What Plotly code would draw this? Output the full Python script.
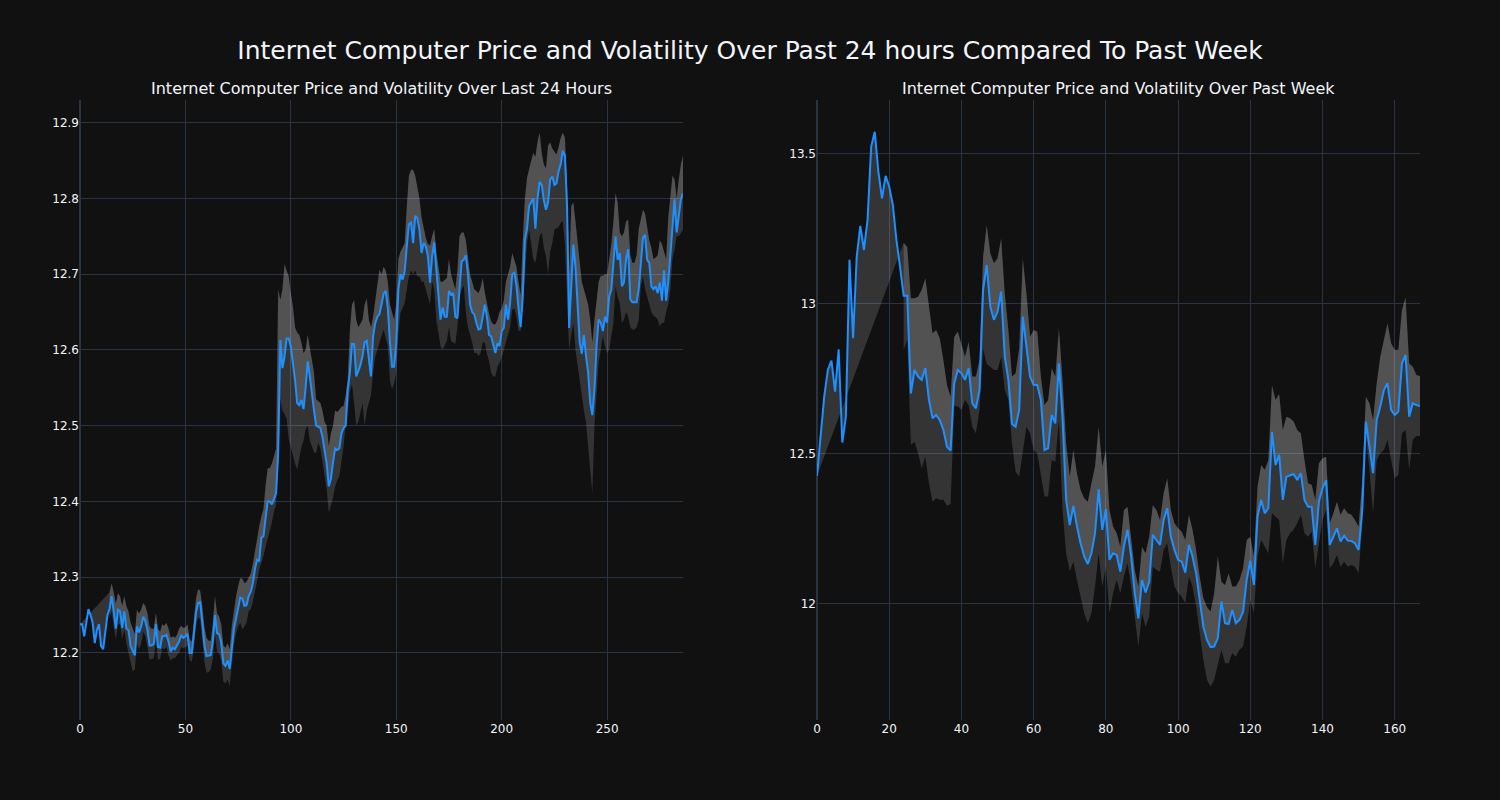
import plotly.graph_objects as go
from plotly.subplots import make_subplots

# ---------------- Last 24 hours (5-minute steps) ----------------
price_24h = [
    12.238, 12.238, 12.222, 12.240, 12.258, 12.250, 12.240, 12.213, 12.230, 12.238,
    12.209, 12.205, 12.225, 12.250, 12.258, 12.275, 12.255, 12.232, 12.257, 12.255,
    12.233, 12.255, 12.232, 12.230, 12.209, 12.203, 12.197, 12.235, 12.227, 12.235,
    12.248, 12.242, 12.230, 12.210, 12.210, 12.212, 12.238, 12.208, 12.207, 12.222,
    12.222, 12.224, 12.215, 12.202, 12.207, 12.205, 12.210, 12.215, 12.223, 12.220,
    12.222, 12.225, 12.200, 12.200, 12.225, 12.253, 12.266, 12.267, 12.240, 12.210,
    12.196, 12.197, 12.197, 12.215, 12.250, 12.226, 12.225, 12.213, 12.186, 12.183,
    12.190, 12.179, 12.210, 12.232, 12.245, 12.257, 12.273, 12.272, 12.262, 12.263,
    12.275, 12.281, 12.292, 12.311, 12.323, 12.321, 12.352, 12.354, 12.380, 12.400,
    12.400, 12.396, 12.403, 12.411, 12.465, 12.613, 12.576, 12.591, 12.615, 12.615,
    12.604, 12.582, 12.560, 12.530, 12.527, 12.534, 12.522, 12.550, 12.585, 12.565,
    12.540, 12.520, 12.500, 12.498, 12.497, 12.485, 12.470, 12.450, 12.420, 12.430,
    12.452, 12.470, 12.468, 12.470, 12.490, 12.497, 12.500, 12.548, 12.570, 12.608,
    12.608, 12.565, 12.572, 12.580, 12.592, 12.610, 12.612, 12.590, 12.565, 12.618,
    12.635, 12.644, 12.647, 12.660, 12.674, 12.678, 12.655, 12.610, 12.578, 12.578,
    12.610, 12.680, 12.700, 12.693, 12.704, 12.737, 12.766, 12.768, 12.741, 12.777,
    12.774, 12.759, 12.728, 12.741, 12.737, 12.724, 12.689, 12.724, 12.742, 12.706,
    12.675, 12.640, 12.656, 12.644, 12.644, 12.678, 12.673, 12.675, 12.644, 12.642,
    12.680, 12.717, 12.719, 12.725, 12.700, 12.660, 12.650, 12.647, 12.636, 12.627,
    12.628, 12.644, 12.660, 12.644, 12.620, 12.618, 12.605, 12.596, 12.609, 12.605,
    12.625, 12.629, 12.660, 12.640, 12.662, 12.700, 12.702, 12.685, 12.655, 12.630,
    12.670, 12.745, 12.760, 12.790, 12.795, 12.800, 12.760, 12.800, 12.822, 12.818,
    12.798, 12.785, 12.795, 12.825, 12.829, 12.818, 12.820, 12.836, 12.845, 12.863,
    12.856, 12.790, 12.629, 12.684, 12.739, 12.710, 12.650, 12.610, 12.595, 12.620,
    12.592, 12.570, 12.530, 12.514, 12.548, 12.605, 12.640, 12.636, 12.625, 12.644,
    12.636, 12.671, 12.680, 12.712, 12.750, 12.719, 12.728, 12.684, 12.689, 12.720,
    12.733, 12.667, 12.663, 12.663, 12.663, 12.680, 12.720, 12.748, 12.752, 12.719,
    12.715, 12.684, 12.680, 12.684, 12.675, 12.689, 12.665, 12.705, 12.665, 12.690,
    12.725, 12.765, 12.799, 12.755, 12.781, 12.799, 12.807,
]

# band values exist from the 15th point onward (earlier points have no band)
upper_24h = [
    12.280, 12.292, 12.280, 12.265, 12.279, 12.275, 12.262, 12.275, 12.262, 12.255,
    12.240, 12.232, 12.225, 12.257, 12.252, 12.257, 12.266, 12.262, 12.252, 12.235,
    12.232, 12.232, 12.253, 12.232, 12.228, 12.238, 12.236, 12.240, 12.232, 12.220,
    12.222, 12.220, 12.224, 12.232, 12.236, 12.233, 12.234, 12.238, 12.218, 12.215,
    12.240, 12.272, 12.284, 12.282, 12.262, 12.235, 12.220, 12.216, 12.216, 12.240,
    12.275, 12.252, 12.248, 12.237, 12.210, 12.207, 12.213, 12.205, 12.236, 12.258,
    12.275, 12.288, 12.299, 12.298, 12.292, 12.294, 12.300, 12.305, 12.318, 12.336,
    12.350, 12.367, 12.380, 12.390, 12.420, 12.444, 12.444, 12.450, 12.460, 12.470,
    12.680, 12.666, 12.680, 12.713, 12.705, 12.697, 12.675, 12.657, 12.630, 12.623,
    12.620, 12.610, 12.596, 12.600, 12.620, 12.605, 12.590, 12.570, 12.535, 12.532,
    12.530, 12.520, 12.505, 12.500, 12.473, 12.490, 12.500, 12.520, 12.518, 12.521,
    12.525, 12.526, 12.540, 12.561, 12.626, 12.660, 12.666, 12.640, 12.630, 12.635,
    12.640, 12.660, 12.668, 12.640, 12.630, 12.644, 12.665, 12.690, 12.706, 12.700,
    12.710, 12.705, 12.690, 12.660, 12.650, 12.640, 12.662, 12.720, 12.730, 12.735,
    12.741, 12.790, 12.830, 12.838, 12.838, 12.830, 12.815, 12.800, 12.775, 12.760,
    12.748, 12.740, 12.738, 12.750, 12.760, 12.730, 12.710, 12.690, 12.690, 12.692,
    12.695, 12.720, 12.700, 12.690, 12.680, 12.705, 12.750, 12.755, 12.755, 12.745,
    12.720, 12.700, 12.690, 12.680, 12.678, 12.675, 12.682, 12.695, 12.676, 12.660,
    12.648, 12.638, 12.634, 12.634, 12.640, 12.650, 12.655, 12.665, 12.690, 12.700,
    12.710, 12.728, 12.720, 12.710, 12.690, 12.672, 12.745, 12.800, 12.827, 12.840,
    12.850, 12.860, 12.855, 12.875, 12.887, 12.860, 12.845, 12.840, 12.870, 12.874,
    12.866, 12.862, 12.858, 12.868, 12.880, 12.887, 12.880, 12.820, 12.700, 12.790,
    12.795, 12.770, 12.745, 12.720, 12.690, 12.680, 12.670, 12.660, 12.640, 12.610,
    12.640, 12.665, 12.690, 12.698, 12.698, 12.700, 12.700, 12.720, 12.740, 12.770,
    12.807, 12.795, 12.755, 12.750, 12.755, 12.770, 12.772, 12.725, 12.715, 12.715,
    12.725, 12.760, 12.775, 12.785, 12.780, 12.760, 12.745, 12.735, 12.720, 12.722,
    12.725, 12.745, 12.740, 12.730, 12.720, 12.775, 12.800, 12.830, 12.825, 12.800,
    12.825, 12.845, 12.857,
]

lower_24h = [
    12.245, 12.255, 12.235, 12.218, 12.238, 12.238, 12.218, 12.232, 12.212, 12.200,
    12.190, 12.176, 12.178, 12.212, 12.205, 12.212, 12.228, 12.222, 12.208, 12.191,
    12.192, 12.193, 12.215, 12.191, 12.192, 12.206, 12.205, 12.208, 12.196, 12.190,
    12.193, 12.193, 12.197, 12.200, 12.208, 12.206, 12.208, 12.210, 12.191, 12.188,
    12.205, 12.235, 12.247, 12.244, 12.218, 12.188, 12.174, 12.175, 12.178, 12.192,
    12.225, 12.202, 12.200, 12.188, 12.162, 12.160, 12.165, 12.156, 12.185, 12.210,
    12.226, 12.235, 12.240, 12.231, 12.235, 12.240, 12.255, 12.258, 12.268, 12.280,
    12.295, 12.310, 12.318, 12.328, 12.340, 12.350, 12.360, 12.372, 12.387, 12.395,
    12.445, 12.535, 12.520, 12.515, 12.510, 12.482, 12.470, 12.460, 12.450, 12.442,
    12.460, 12.472, 12.480, 12.495, 12.500, 12.480, 12.473, 12.465, 12.464, 12.478,
    12.470, 12.451, 12.430, 12.416, 12.385, 12.395, 12.405, 12.420, 12.428, 12.433,
    12.450, 12.473, 12.500, 12.517, 12.545, 12.555, 12.530, 12.500, 12.505, 12.520,
    12.530, 12.500, 12.520, 12.530, 12.540, 12.570, 12.590, 12.600, 12.610, 12.620,
    12.627, 12.615, 12.605, 12.560, 12.548, 12.556, 12.570, 12.620, 12.649, 12.655,
    12.662, 12.680, 12.697, 12.705, 12.700, 12.705, 12.697, 12.697, 12.690, 12.690,
    12.680, 12.668, 12.660, 12.690, 12.680, 12.640, 12.620, 12.605, 12.600, 12.605,
    12.612, 12.630, 12.612, 12.610, 12.608, 12.630, 12.670, 12.680, 12.685, 12.650,
    12.630, 12.620, 12.610, 12.596, 12.596, 12.592, 12.596, 12.610, 12.610, 12.595,
    12.585, 12.570, 12.565, 12.565, 12.578, 12.583, 12.590, 12.600, 12.612, 12.620,
    12.630, 12.653, 12.655, 12.645, 12.625, 12.625, 12.660, 12.700, 12.740, 12.759,
    12.740, 12.720, 12.715, 12.735, 12.750, 12.755, 12.735, 12.724, 12.700, 12.730,
    12.741, 12.759, 12.760, 12.762, 12.768, 12.770, 12.740, 12.670, 12.600, 12.620,
    12.636, 12.600, 12.580, 12.555, 12.540, 12.520, 12.504, 12.472, 12.440, 12.411,
    12.500, 12.548, 12.583, 12.600, 12.618, 12.605, 12.596, 12.600, 12.620, 12.636,
    12.684, 12.670, 12.662, 12.636, 12.640, 12.650, 12.644, 12.630, 12.627, 12.627,
    12.630, 12.640, 12.684, 12.697, 12.680, 12.670, 12.660, 12.650, 12.645, 12.644,
    12.640, 12.631, 12.636, 12.636, 12.650, 12.660, 12.680, 12.720, 12.733, 12.750,
    12.750, 12.755, 12.759,
]

# ---------------- Past week (hourly steps) ----------------
price_week = [
    12.427, 12.547, 12.691, 12.780, 12.811, 12.708, 12.849, 12.538, 12.624, 13.147,
    12.886, 13.158, 13.260, 13.180, 13.280, 13.524, 13.574, 13.441, 13.352, 13.427,
    13.391, 13.330, 13.213, 13.124, 13.027, 13.027, 12.702, 12.780, 12.758, 12.747,
    12.786, 12.680, 12.619, 12.630, 12.613, 12.580, 12.524, 12.511, 12.736, 12.780,
    12.769, 12.747, 12.786, 12.669, 12.652, 12.713, 13.047, 13.130, 12.991, 12.947,
    12.974, 13.041, 12.824, 12.747, 12.600, 12.591, 12.647, 12.958, 12.847, 12.758,
    12.730, 12.730, 12.680, 12.513, 12.519, 12.630, 12.602, 12.802, 12.620, 12.347,
    12.263, 12.327, 12.258, 12.202, 12.158, 12.133, 12.169, 12.236, 12.382, 12.247,
    12.316, 12.147, 12.169, 12.163, 12.108, 12.191, 12.247, 12.158, 12.036, 11.952,
    12.080, 12.038, 12.074, 12.230, 12.213, 12.197, 12.280, 12.319, 12.224, 12.180,
    12.147, 12.141, 12.104, 12.197, 12.158, 12.102, 12.013, 11.924, 11.880, 11.856,
    11.858, 11.886, 12.008, 11.936, 11.933, 11.980, 11.936, 11.947, 11.974, 12.080,
    12.144, 12.063, 12.291, 12.347, 12.302, 12.319, 12.574, 12.463, 12.497, 12.347,
    12.424, 12.428, 12.433, 12.413, 12.436, 12.347, 12.324, 12.324, 12.197, 12.341,
    12.386, 12.413, 12.197, 12.224, 12.252, 12.208, 12.227, 12.211, 12.210, 12.202,
    12.180, 12.313, 12.608, 12.524, 12.436, 12.613, 12.658, 12.713, 12.736, 12.647,
    12.630, 12.641, 12.802, 12.830, 12.624, 12.669, 12.663, 12.660,
]

# band values exist from the 25th point onward
upper_week = [
    13.204, 13.190, 13.019, 13.019, 13.024, 13.047, 13.086, 12.991, 12.902, 12.913,
    12.886, 12.813, 12.730, 12.691, 12.891, 12.908, 12.869, 12.824, 12.874, 12.758,
    12.758, 12.813, 13.158, 13.263, 13.169, 13.136, 13.152, 13.219, 13.036, 12.913,
    12.758, 12.769, 12.852, 13.152, 13.036, 12.891, 12.913, 12.908, 12.758, 12.663,
    12.680, 12.786, 12.758, 12.919, 12.747, 12.536, 12.424, 12.513, 12.436, 12.380,
    12.352, 12.341, 12.402, 12.458, 12.591, 12.458, 12.513, 12.313, 12.258, 12.236,
    12.191, 12.313, 12.324, 12.213, 12.113, 12.058, 12.191, 12.169, 12.224, 12.330,
    12.313, 12.280, 12.369, 12.419, 12.313, 12.269, 12.252, 12.241, 12.213, 12.297,
    12.247, 12.180, 12.090, 12.020, 11.990, 11.975, 12.036, 12.158, 12.074, 12.063,
    12.102, 12.058, 12.058, 12.080, 12.119, 12.213, 12.224, 12.158, 12.391, 12.463,
    12.447, 12.480, 12.730, 12.680, 12.700, 12.580, 12.624, 12.619, 12.608, 12.580,
    12.569, 12.480, 12.402, 12.397, 12.347, 12.469, 12.486, 12.491, 12.269, 12.302,
    12.341, 12.297, 12.319, 12.302, 12.297, 12.280, 12.258, 12.413, 12.691, 12.669,
    12.613, 12.736, 12.824, 12.880, 12.936, 12.869, 12.847, 12.847, 12.980, 13.022,
    12.802, 12.791, 12.763, 12.760,
]

lower_week = [
    12.847, 12.880, 12.530, 12.541, 12.502, 12.452, 12.491, 12.402, 12.341, 12.352,
    12.347, 12.347, 12.327, 12.333, 12.660, 12.658, 12.647, 12.680, 12.663, 12.591,
    12.569, 12.647, 12.850, 12.800, 12.791, 12.780, 12.780, 12.824, 12.713, 12.680,
    12.536, 12.441, 12.424, 12.502, 12.591, 12.569, 12.513, 12.502, 12.424, 12.358,
    12.358, 12.480, 12.474, 12.613, 12.313, 12.169, 12.108, 12.141, 12.080, 12.024,
    11.969, 11.936, 11.969, 12.058, 12.169, 12.058, 12.124, 11.969, 12.036, 12.080,
    12.036, 12.091, 12.136, 12.058, 11.947, 11.858, 11.969, 11.924, 11.958, 12.124,
    12.113, 12.108, 12.180, 12.202, 12.124, 12.058, 12.036, 12.024, 12.002, 12.091,
    12.058, 11.991, 11.902, 11.813, 11.747, 11.724, 11.747, 11.802, 11.847, 11.802,
    11.802, 11.836, 11.824, 11.847, 11.858, 11.924, 12.013, 11.969, 12.158, 12.213,
    12.191, 12.169, 12.302, 12.291, 12.280, 12.136, 12.213, 12.236, 12.247, 12.269,
    12.297, 12.236, 12.224, 12.241, 12.119, 12.202, 12.280, 12.313, 12.119, 12.136,
    12.163, 12.124, 12.141, 12.124, 12.130, 12.124, 12.102, 12.258, 12.558, 12.447,
    12.302, 12.480, 12.502, 12.513, 12.547, 12.480, 12.419, 12.430, 12.569, 12.580,
    12.447, 12.547, 12.560, 12.560,
]

main_title = "Internet Computer Price and Volatility Over Past 24 hours Compared To Past Week"
sub_titles = (
    "Internet Computer Price and Volatility Over Last 24 Hours",
    "Internet Computer Price and Volatility Over Past Week",
)

LINE_COLOR = "#1e90ff"
BAND_FILL = "rgba(255,255,255,0.15)"
FONT = "DejaVu Sans"

fig = make_subplots(rows=1, cols=2, subplot_titles=sub_titles)


def add_panel(col, price, upper, lower):
    n = len(price)
    x = list(range(n))
    xb = list(range(n - len(upper), n))
    # lower bound (no fill), upper bound filled down to lower,
    # price filled up to upper; price line ends up drawn on top
    fig.add_trace(
        go.Scatter(x=xb, y=lower, mode="lines", name="Lower",
                   line=dict(width=0, color="rgba(0,0,0,0)")),
        row=1, col=col,
    )
    fig.add_trace(
        go.Scatter(x=xb, y=upper, mode="lines", name="Upper",
                   line=dict(width=0, color="rgba(0,0,0,0)"),
                   fill="tonexty", fillcolor=BAND_FILL),
        row=1, col=col,
    )
    fig.add_trace(
        go.Scatter(x=x, y=price, mode="lines", name="Price",
                   line=dict(color=LINE_COLOR, width=2),
                   fill="tonexty", fillcolor=BAND_FILL),
        row=1, col=col,
    )


add_panel(1, price_24h, upper_24h, lower_24h)
add_panel(2, price_week, upper_week, lower_week)

fig.update_annotations(font=dict(family=FONT, size=16))
fig.update_layout(
    template="plotly_dark",
    width=1500,
    height=800,
    showlegend=False,
    font=dict(family=FONT),
    title=dict(text=main_title, x=0.5, xanchor="center",
               y=0.9375, yanchor="middle", font=dict(family=FONT, size=25)),
    margin=dict(l=80, r=80, t=100, b=80),
)
fig.update_xaxes(range=[0, len(price_24h) - 1], row=1, col=1)
fig.update_xaxes(range=[0, len(price_week) - 1], row=1, col=2)
fig.update_yaxes(range=[12.1115, 12.930], row=1, col=1)
fig.update_yaxes(range=[11.613, 13.68], dtick=0.5, row=1, col=2)

fig.write_html("out.html")
